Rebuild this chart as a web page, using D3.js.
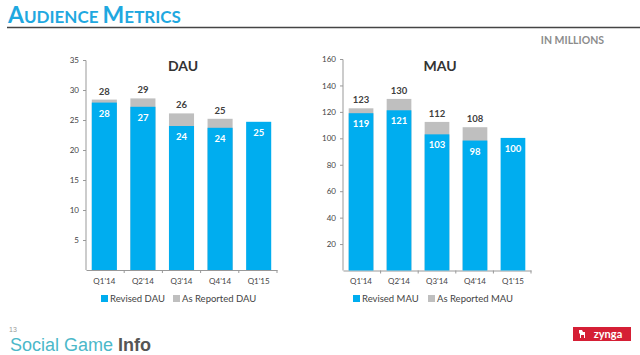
<!DOCTYPE html>
<html><head><meta charset="utf-8">
<script src="https://cdn.jsdelivr.net/npm/d3@7"></script>
<style>
body{margin:0;background:#fff;}
svg{display:block;font-family:Lato,"Open Sans",sans-serif;}
</style></head>
<body><svg id="c" width="640" height="355"></svg>
<script>
const categories = ["Q1'14","Q2'14","Q3'14","Q4'14","Q1'15"];
const dauRevised = [27.9, 27.2, 24.0, 23.7, 24.7];
const dauReported = [28.4, 28.6, 26.1, 25.2, null];
const mauRevised = [119, 121.2, 103, 98.3, 100.3];
const mauReported = [122.7, 129.8, 112.4, 108.4, null];
const dauTicks = [5,10,15,20,25,30,35];
const mauTicks = [20,40,60,80,100,120,140,160];

const BLUE = "#00adef", GRAY = "#bfbfbf";
const svg = d3.select("#c");

// header
const h = svg.append("text").attr("x",8).attr("y",23).attr("fill","#1fa8e0").attr("font-weight","bold").attr("font-family","Lato, sans-serif");
[["A",23],["UDIENCE ",17],["M",23],["ETRICS",17]].forEach(([t,s])=>h.append("tspan").attr("font-size",s).text(t));
svg.append("line").attr("x1",7).attr("x2",640).attr("y1",27.5).attr("y2",27.5).attr("stroke","#444").attr("stroke-width",1.5);
svg.append("text").attr("x",604).attr("y",44).attr("text-anchor","end").attr("font-size",10.5).attr("font-weight","bold").attr("fill","#8c8c8c").text("IN MILLIONS");

function chart(cfg){
  const x = d3.scaleBand().domain(categories).range([cfg.x0,cfg.x1]).paddingInner(0.35).paddingOuter(0.15);
  const y = d3.scaleLinear().domain([0,cfg.max]).range([cfg.y0,cfg.yTop]);
  const g = svg.append("g");
  const ax = g.append("g").attr("transform",`translate(${cfg.x0},0)`).call(d3.axisLeft(y).tickValues(cfg.ticks).tickSize(3).tickPadding(4));
  ax.select(".domain").attr("stroke","#999").attr("d",`M-3,${cfg.yTop+0.5}H0V${cfg.y0}`);
  ax.selectAll(".tick line").attr("stroke","#999");
  ax.selectAll(".tick text").attr("font-size",8).attr("fill","#444").attr("font-family","Lato, sans-serif");
  const xa = g.append("g").attr("transform",`translate(0,${cfg.y0})`).call(d3.axisBottom(x).tickSize(0).tickPadding(8));
  xa.select(".domain").attr("stroke","#999");
  xa.selectAll(".tick text").attr("font-size",8).attr("fill","#444").attr("font-family","Lato, sans-serif");
  categories.forEach((c,i)=>{
    const bx = cfg.x0 + (cfg.x1-cfg.x0)/categories.length*(i+1);
    g.append("line").attr("x1",bx).attr("x2",bx).attr("y1",cfg.y0).attr("y2",cfg.y0+3).attr("stroke","#999");
  });
  g.selectAll(".rep").data(categories.map((c,i)=>({c,v:cfg.rep[i]})).filter(d=>d.v!=null)).join("rect")
    .attr("x",d=>x(d.c)).attr("width",x.bandwidth()).attr("y",d=>y(d.v)).attr("height",d=>y(0)-y(d.v)).attr("fill",GRAY);
  g.selectAll(".rev").data(categories.map((c,i)=>({c,v:cfg.rev[i]}))).join("rect")
    .attr("x",d=>x(d.c)).attr("width",x.bandwidth()).attr("y",d=>y(d.v)).attr("height",d=>y(0)-y(d.v)).attr("fill",BLUE);
  g.selectAll(".revl").data(categories.map((c,i)=>({c,v:cfg.rev[i]}))).join("text")
    .attr("x",d=>x(d.c)+x.bandwidth()/2).attr("y",d=>y(d.v)+14).attr("text-anchor","middle")
    .attr("font-size",9.5).attr("font-weight","bold").attr("fill","#fff").text(d=>Math.round(d.v));
  g.selectAll(".repl").data(categories.map((c,i)=>({c,v:cfg.rep[i]})).filter(d=>d.v!=null)).join("text")
    .attr("x",d=>x(d.c)+x.bandwidth()/2).attr("y",d=>y(d.v)-5).attr("text-anchor","middle")
    .attr("font-size",9.5).attr("font-weight","bold").attr("fill","#404040").text(d=>Math.round(d.v));
  g.append("text").attr("x",cfg.titleX).attr("y",71).attr("text-anchor","middle").attr("font-size",14).attr("font-weight","bold").attr("fill","#333").text(cfg.title);
  // legend
  g.append("rect").attr("x",cfg.lx).attr("y",295).attr("width",7).attr("height",7).attr("fill",BLUE);
  g.append("text").attr("x",cfg.lx+9).attr("y",302).attr("font-size",9.5).attr("fill","#444").text("Revised "+cfg.title);
  g.append("rect").attr("x",cfg.lx2).attr("y",295).attr("width",7).attr("height",7).attr("fill",GRAY);
  g.append("text").attr("x",cfg.lx2+9).attr("y",302).attr("font-size",9.5).attr("fill","#444").text("As Reported "+cfg.title);
}
chart({x0:86,x1:277,y0:270,yTop:60,max:35,ticks:dauTicks,rev:dauRevised,rep:dauReported,title:"DAU",titleX:183,lx:101,lx2:173});
chart({x0:343,x1:531,y0:270.5,yTop:59,max:160,ticks:mauTicks,rev:mauRevised,rep:mauReported,title:"MAU",titleX:440,lx:353,lx2:428});

// footer
svg.append("text").attr("x",9).attr("y",332).attr("font-size",7).attr("fill","#999").attr("font-family","Liberation Sans, sans-serif").text("13");
const f = svg.append("text").attr("x",10).attr("y",351).attr("font-size",18).attr("font-family","Liberation Sans, Arial, sans-serif");
f.append("tspan").attr("fill","#4bb8c9").text("Social Game ");
f.append("tspan").attr("fill","#555").attr("font-weight","bold").text("Info");
svg.append("rect").attr("x",573).attr("y",327).attr("width",58).attr("height",14).attr("fill","#d51f35");
svg.append("text").attr("x",608).attr("y",338).attr("text-anchor","middle").attr("font-size",11).attr("font-weight","bold").attr("fill","#fff").text("zynga");
svg.append("path").attr("d","M579,330h3l1,2h2v6h-1v-3h-3v3h-1v-4l-1,-1z").attr("fill","#fff");
</script></body></html>
